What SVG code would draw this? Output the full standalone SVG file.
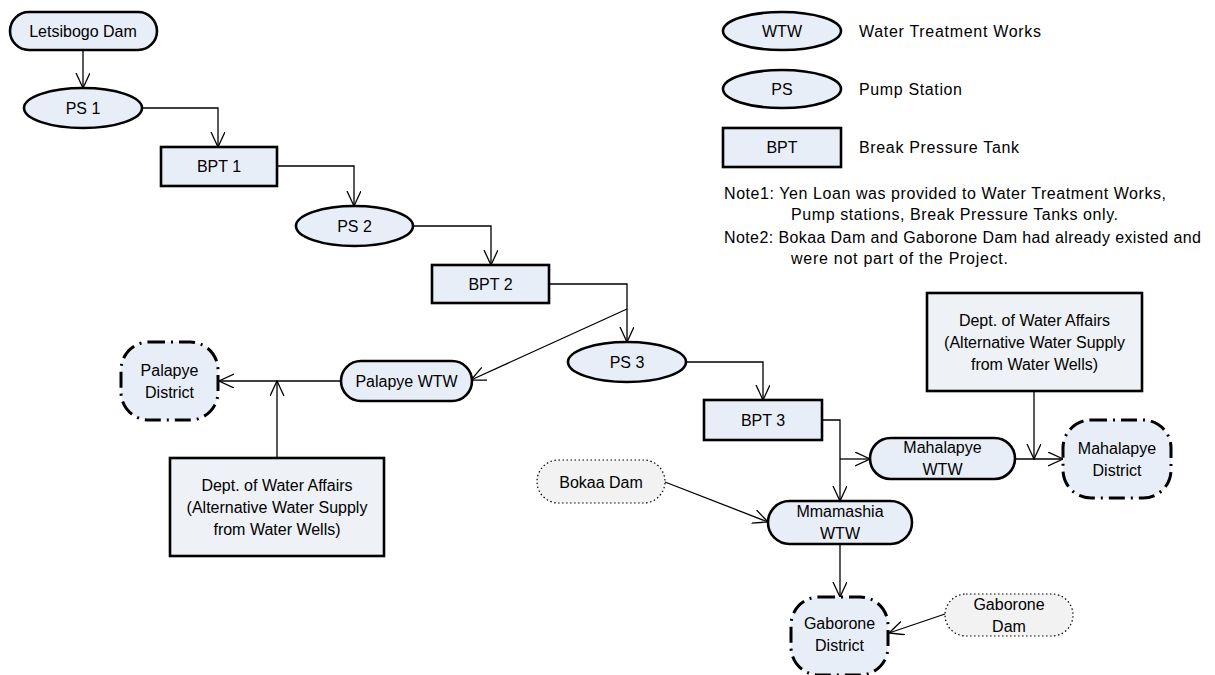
<svg xmlns="http://www.w3.org/2000/svg" width="1215" height="675" viewBox="0 0 1215 675">
<defs>
<marker id="arr" markerUnits="userSpaceOnUse" markerWidth="16" markerHeight="16" refX="15" refY="7" orient="auto">
<path d="M0,0 L15,7 L0,14" fill="none" stroke="#000" stroke-width="1.3"/>
</marker>
<style>
text{font-family:"Liberation Sans",Arial,sans-serif;font-size:16px;fill:#000;text-anchor:middle;dominant-baseline:central}
.lt{text-anchor:start}
.n{fill:#e8eef8;stroke:#000;stroke-width:2.6}
.d{fill:#e8eef8;stroke:#000;stroke-width:3;stroke-dasharray:16 6 2 6}
.dam{fill:#f2f2f2;stroke:#000;stroke-width:1.2;stroke-dasharray:1.5 2.5}
.c{fill:none;stroke:#000;stroke-width:1.3}
.a{marker-end:url(#arr)}
</style>
</defs>
<rect width="1215" height="675" fill="#fff"/>

<g id="connectors">
<path class="c a" d="M83,50 V88"/>
<path class="c a" d="M142,108 H218 V147"/>
<path class="c a" d="M277,166 H354 V206"/>
<path class="c a" d="M413,226 H491 V265"/>
<path class="c a" d="M549,284 H627 V342"/>
<path class="c a" d="M627,309 L471,380"/>
<path class="c a" d="M686,362 H763 V400"/>
<path class="c a" d="M822,420 H840 V501"/>
<path class="c a" d="M840,459 H870"/>
<path class="c a" d="M341,381 H219"/>
<path class="c a" d="M277,458 V381"/>
<path class="c a" d="M1015,459 H1063"/>
<path class="c a" d="M1034,391 V459"/>
<path class="c a" d="M665,482 L768,522"/>
<path class="c a" d="M840,544 V597"/>
<path class="c a" d="M945,614 L889,633"/>
</g>

<g id="letsibogo"><rect class="n" x="10" y="12" width="147" height="38" rx="19"/><text x="83" y="31">Letsibogo Dam</text></g>
<g id="ps1"><ellipse class="n" cx="83" cy="108" rx="59" ry="20"/><text x="83" y="108">PS 1</text></g>
<g id="bpt1"><rect class="n" x="161" y="147" width="116" height="39"/><text x="219" y="166">BPT 1</text></g>
<g id="ps2"><ellipse class="n" cx="354.5" cy="226" rx="58.5" ry="20"/><text x="354.5" y="226">PS 2</text></g>
<g id="bpt2"><rect class="n" x="432" y="265" width="117" height="38"/><text x="490.5" y="284">BPT 2</text></g>
<g id="ps3"><ellipse class="n" cx="627" cy="362" rx="59" ry="20"/><text x="627" y="362">PS 3</text></g>
<g id="bpt3"><rect class="n" x="704" y="400" width="118" height="40"/><text x="763" y="420">BPT 3</text></g>

<g id="palapye-wtw"><rect class="n" x="341" y="361" width="131" height="40" rx="20"/><text x="406.5" y="381">Palapye WTW</text></g>
<g id="palapye-district"><rect class="d" x="121" y="342" width="97" height="78" rx="28"/><text x="169.5" y="370">Palapye</text><text x="169.5" y="392">District</text></g>
<g id="dwa1"><rect class="n" x="170" y="458" width="214" height="98" style="fill:#eef1f6"/><text x="277" y="485">Dept. of Water Affairs</text><text x="277" y="507">(Alternative Water Supply</text><text x="277" y="529">from Water Wells)</text></g>

<g id="mahalapye-wtw"><rect class="n" x="870" y="438" width="145" height="41" rx="20.5"/><text x="942.5" y="447">Mahalapye</text><text x="942.5" y="469">WTW</text></g>
<g id="mahalapye-district"><rect class="d" x="1063" y="420" width="108" height="78" rx="28"/><text x="1117" y="448">Mahalapye</text><text x="1117" y="470">District</text></g>
<g id="dwa2"><rect class="n" x="927" y="293" width="215" height="98" style="fill:#eef1f6"/><text x="1034.5" y="320">Dept. of Water Affairs</text><text x="1034.5" y="342">(Alternative Water Supply</text><text x="1034.5" y="364">from Water Wells)</text></g>

<g id="bokaa"><rect class="dam" x="537" y="460" width="128" height="43" rx="21.5"/><text x="601" y="482">Bokaa Dam</text></g>
<g id="mmamashia"><rect class="n" x="768" y="501" width="144" height="43" rx="21.5"/><text x="840" y="511">Mmamashia</text><text x="840" y="533">WTW</text></g>
<g id="gaborone-district"><rect class="d" x="791" y="597" width="97" height="78" rx="28"/><text x="839.5" y="623">Gaborone</text><text x="839.5" y="645">District</text></g>
<g id="gaborone-dam"><rect class="dam" x="945" y="594" width="128" height="42" rx="21"/><text x="1009" y="604">Gaborone</text><text x="1009" y="626">Dam</text></g>

<g id="legend">
<ellipse class="n" cx="782" cy="31" rx="59" ry="19"/><text x="782" y="31">WTW</text>
<text class="lt" x="859" y="31" textLength="182" lengthAdjust="spacing">Water Treatment Works</text>
<ellipse class="n" cx="782" cy="89" rx="59" ry="19"/><text x="782" y="89">PS</text>
<text class="lt" x="859" y="89" textLength="103" lengthAdjust="spacing">Pump Station</text>
<rect class="n" x="723" y="128" width="118" height="39"/><text x="782" y="147.5">BPT</text>
<text class="lt" x="859" y="147.5" textLength="160" lengthAdjust="spacing">Break Pressure Tank</text>
<text class="lt" x="724" y="193" textLength="442" lengthAdjust="spacing">Note1: Yen Loan was provided to Water Treatment Works,</text>
<text class="lt" x="791" y="214" textLength="327" lengthAdjust="spacing">Pump stations, Break Pressure Tanks only.</text>
<text class="lt" x="724" y="237" textLength="477" lengthAdjust="spacing">Note2: Bokaa Dam and Gaborone Dam had already existed and</text>
<text class="lt" x="791" y="258" textLength="217" lengthAdjust="spacing">were not part of the Project.</text>
</g>
</svg>
